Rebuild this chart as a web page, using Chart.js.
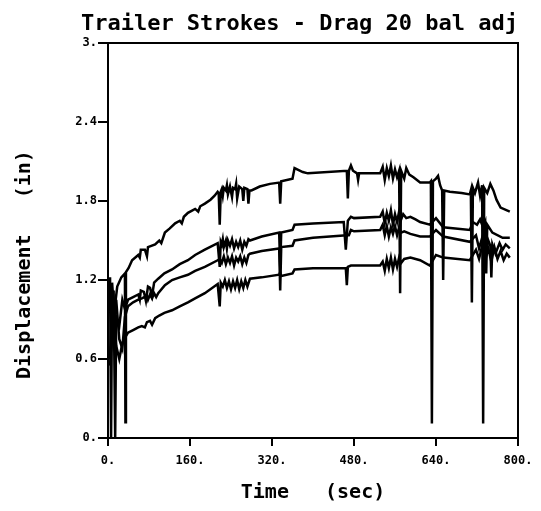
<!DOCTYPE html>
<html>
<head>
<meta charset="utf-8">
<script src="https://cdn.jsdelivr.net/npm/chart.js@4"></script>
<style>
  body { margin: 0; background: #fff; }
  canvas { display: block; }
</style>
</head>
<body>
<canvas id="strokeChart" width="541" height="511"></canvas>
<script>
// Tick labels
const timeTicks = [0, 160, 320, 480, 640, 800];
const dispTicks = [0, 0.6, 1.2, 1.8, 2.4, 3];

// Stroke 1 (top trace)
const time1 = [4, 6, 8, 12, 18, 26, 33, 34, 35, 40, 47, 59, 62, 64, 72, 76, 78, 92, 100, 104, 111, 120, 131, 140, 144, 148, 156, 170, 176, 180, 189, 200, 208, 214, 216, 218, 220, 222, 224, 226, 230, 232, 234, 238, 242, 244, 248, 250, 252, 256, 262, 264, 266, 272, 274, 276, 280, 296, 316, 334, 336, 338, 360, 364, 380, 390, 466, 468, 470, 474, 478, 486, 488, 490, 531, 536, 540, 544, 548, 552, 556, 560, 564, 568, 570, 572, 578, 582, 588, 596, 609, 628, 630, 632, 634, 640, 644, 648, 652, 654, 656, 667, 690, 706, 708, 710, 712, 716, 722, 726, 730, 732, 734, 740, 746, 752, 758, 766, 784];
const disp1 = [1.22, 0.0, 1.18, 0.95, 1.15, 1.22, 1.25, 0.12, 1.26, 1.29, 1.35, 1.39, 1.37, 1.43, 1.43, 1.38, 1.45, 1.47, 1.50, 1.48, 1.56, 1.59, 1.63, 1.65, 1.63, 1.68, 1.71, 1.74, 1.72, 1.76, 1.78, 1.81, 1.84, 1.87, 1.86, 1.62, 1.87, 1.89, 1.84, 1.90, 1.88, 1.92, 1.85, 1.91, 1.83, 1.90, 1.89, 1.93, 1.82, 1.91, 1.89, 1.80, 1.90, 1.89, 1.78, 1.88, 1.88, 1.91, 1.93, 1.94, 1.78, 1.95, 1.97, 2.05, 2.02, 2.01, 2.03, 1.82, 2.03, 2.07, 2.03, 2.01, 1.96, 2.01, 2.01, 2.06, 1.96, 2.05, 1.99, 2.07, 1.97, 2.04, 1.98, 2.03, 1.10, 2.03, 1.97, 2.05, 2.00, 1.98, 1.94, 1.94, 1.95, 0.11, 1.95, 1.97, 1.99, 1.92, 1.88, 1.20, 1.88, 1.87, 1.86, 1.85, 1.88, 1.03, 1.90, 1.86, 1.94, 1.84, 1.92, 0.11, 1.90, 1.86, 1.93, 1.88, 1.81, 1.75, 1.72];

// Stroke 2
const time2 = [4, 8, 11, 14, 16, 22, 28, 33, 39, 49, 59, 62, 64, 70, 74, 78, 82, 86, 90, 98, 110, 125, 140, 156, 170, 189, 214, 218, 220, 222, 224, 226, 230, 232, 234, 238, 242, 246, 250, 254, 258, 262, 266, 270, 274, 277, 300, 334, 336, 338, 360, 364, 400, 460, 464, 468, 474, 480, 531, 536, 540, 544, 548, 552, 556, 560, 564, 568, 572, 576, 582, 590, 600, 609, 628, 640, 654, 706, 712, 720, 726, 732, 736, 738, 740, 750, 770, 784];
const disp2 = [0.62, 1.05, 1.12, 0.0, 0.92, 0.85, 1.05, 0.98, 1.05, 1.07, 1.09, 1.05, 1.12, 1.11, 1.04, 1.15, 1.14, 1.08, 1.18, 1.21, 1.25, 1.28, 1.32, 1.35, 1.39, 1.43, 1.48, 1.30, 1.49, 1.47, 1.51, 1.45, 1.50, 1.44, 1.50, 1.46, 1.51, 1.44, 1.49, 1.45, 1.50, 1.43, 1.49, 1.46, 1.51, 1.50, 1.53, 1.56, 1.30, 1.56, 1.58, 1.62, 1.63, 1.64, 1.43, 1.65, 1.68, 1.67, 1.68, 1.72, 1.63, 1.71, 1.65, 1.73, 1.62, 1.70, 1.64, 1.72, 1.66, 1.70, 1.67, 1.68, 1.66, 1.64, 1.62, 1.67, 1.60, 1.58, 1.64, 1.62, 1.66, 1.60, 1.64, 1.25, 1.62, 1.56, 1.52, 1.52];

// Stroke 3
const time3 = [4, 10, 16, 22, 28, 33, 39, 49, 59, 66, 76, 78, 82, 86, 90, 94, 98, 111, 125, 140, 156, 170, 189, 214, 218, 222, 226, 230, 234, 238, 242, 246, 250, 254, 258, 262, 266, 270, 274, 277, 300, 334, 336, 338, 360, 364, 400, 466, 470, 474, 480, 531, 536, 540, 544, 548, 552, 556, 560, 564, 568, 572, 578, 590, 609, 628, 640, 654, 706, 718, 724, 730, 736, 742, 746, 748, 750, 756, 764, 770, 776, 784];
const disp3 = [0.60, 0.82, 1.05, 0.75, 0.68, 0.92, 1.00, 1.03, 1.05, 1.06, 1.08, 1.05, 1.09, 1.06, 1.10, 1.07, 1.10, 1.16, 1.20, 1.22, 1.24, 1.27, 1.30, 1.35, 1.36, 1.33, 1.38, 1.32, 1.37, 1.33, 1.38, 1.31, 1.37, 1.34, 1.38, 1.32, 1.37, 1.33, 1.39, 1.40, 1.42, 1.44, 1.12, 1.45, 1.46, 1.50, 1.52, 1.54, 1.54, 1.58, 1.57, 1.58, 1.62, 1.54, 1.61, 1.53, 1.60, 1.55, 1.61, 1.54, 1.60, 1.56, 1.57, 1.55, 1.53, 1.53, 1.58, 1.53, 1.49, 1.54, 1.44, 1.52, 1.42, 1.50, 1.46, 1.22, 1.47, 1.40, 1.48, 1.43, 1.47, 1.44];

// Stroke 4 (bottom trace)
const time4 = [4, 10, 16, 22, 28, 33, 39, 49, 59, 66, 72, 76, 82, 86, 92, 100, 110, 125, 140, 156, 170, 189, 214, 218, 220, 224, 228, 232, 236, 240, 244, 248, 252, 256, 260, 264, 268, 272, 277, 300, 334, 336, 338, 360, 364, 400, 440, 464, 466, 468, 474, 480, 531, 536, 540, 544, 548, 552, 556, 560, 564, 568, 572, 578, 590, 609, 628, 640, 654, 706, 718, 724, 730, 736, 742, 748, 754, 760, 766, 772, 778, 784];
const disp4 = [0.55, 0.96, 0.70, 0.60, 0.72, 0.76, 0.80, 0.82, 0.84, 0.85, 0.84, 0.88, 0.89, 0.86, 0.91, 0.93, 0.95, 0.97, 1.00, 1.03, 1.06, 1.10, 1.17, 1.00, 1.18, 1.15, 1.20, 1.14, 1.19, 1.13, 1.19, 1.14, 1.20, 1.13, 1.19, 1.14, 1.20, 1.15, 1.21, 1.22, 1.24, 1.26, 1.23, 1.25, 1.28, 1.29, 1.29, 1.29, 1.16, 1.30, 1.31, 1.31, 1.31, 1.34, 1.27, 1.36, 1.29, 1.37, 1.28, 1.36, 1.30, 1.37, 1.33, 1.36, 1.37, 1.35, 1.31, 1.39, 1.37, 1.35, 1.43, 1.36, 1.46, 1.35, 1.44, 1.34, 1.45, 1.36, 1.42, 1.35, 1.40, 1.37];

const series = [[time1, disp1], [time2, disp2], [time3, disp3], [time4, disp4]];

const plotFont = '"DejaVu Sans Mono", monospace';

// Marco completo alrededor del area de datos
const frameBox = {
    id: 'frameBox',
    afterDatasetsDraw(chart) {
        const { ctx, chartArea: a } = chart;
        ctx.save();
        ctx.strokeStyle = '#000';
        ctx.lineWidth = 2;
        ctx.strokeRect(a.left, a.top, a.right - a.left, a.bottom - a.top);
        ctx.restore();
    }
};

const ctx = document.getElementById('strokeChart').getContext('2d');
new Chart(ctx, {
    type: 'line',
    data: {
        datasets: series.map(([t, d], i) => ({
            label: 'Stroke ' + (i + 1),
            data: t.map((x, j) => ({ x, y: d[j] })),
            borderColor: '#000',
            borderWidth: 2.5,
            pointRadius: 0,
            tension: 0,
            fill: false
        }))
    },
    options: {
        responsive: false,
        animation: false,
        layout: { padding: { top: 0, left: 0, right: 23, bottom: 0 } },
        plugins: {
            legend: { display: false },
            tooltip: { enabled: false },
            title: {
                display: true,
                text: 'Trailer Strokes - Drag 20 bal adj',
                align: 'end',
                color: '#000',
                font: { family: plotFont, size: 22, weight: 'bold', lineHeight: 1.2 },
                padding: { top: 11, bottom: 5.6 }
            }
        },
        scales: {
            x: {
                type: 'linear',
                min: 0,
                max: 800,
                afterFit: s => { s.height = 73; },
                afterBuildTicks: s => { s.ticks = timeTicks.map(v => ({ value: v })); },
                ticks: {
                    color: '#000',
                    padding: 8,
                    maxRotation: 0,
                    font: { family: plotFont, size: 12, weight: 'bold' },
                    callback: v => v + '.'
                },
                grid: { drawOnChartArea: false, tickLength: 8, color: '#000', lineWidth: 2 },
                border: { color: '#000', width: 2 },
                title: {
                    display: true,
                    text: 'Time   (sec)',
                    color: '#000',
                    font: { family: plotFont, size: 20, weight: 'bold', lineHeight: 1.2 },
                    padding: { top: 0, bottom: 6 }
                }
            },
            y: {
                type: 'linear',
                min: 0,
                max: 3,
                afterFit: s => { s.width = 108; },
                afterBuildTicks: s => { s.ticks = dispTicks.map(v => ({ value: v })); },
                ticks: {
                    color: '#000',
                    padding: 1,
                    font: { family: plotFont, size: 12, weight: 'bold' },
                    callback: v => (v === 0 || v === 3) ? v + '.' : v.toFixed(1)
                },
                grid: { drawOnChartArea: false, tickLength: 10, color: '#000', lineWidth: 2 },
                border: { color: '#000', width: 2 },
                title: {
                    display: true,
                    // espacios finales para bajar el texto como en el original
                    text: 'Displacement   (in)    ',
                    color: '#000',
                    font: { family: plotFont, size: 20, weight: 'bold', lineHeight: 1.2 },
                    padding: { top: 13, bottom: 0 }
                }
            }
        }
    },
    plugins: [frameBox]
});
</script>
</body>
</html>
